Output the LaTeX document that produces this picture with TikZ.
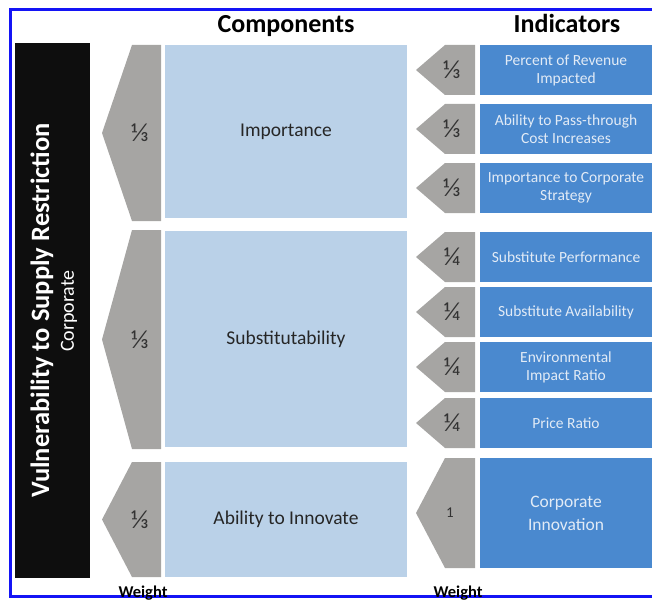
\documentclass[tikz,border=0pt]{standalone}
\usepackage{fontspec}
\setmainfont{Carlito}

\definecolor{rahmen}{RGB}{20,20,245}
\definecolor{balken}{RGB}{14,14,14}
\definecolor{gewicht}{RGB}{166,165,163}
\definecolor{hellblau}{RGB}{186,209,232}
\definecolor{dunkelblau}{RGB}{74,137,207}
\definecolor{hellschrift}{RGB}{226,235,246}

\tikzset{
  komp/.style={fill=hellblau, text=black!85, inner sep=0pt, minimum width=242,
    font=\fontsize{19.5}{23}\selectfont},
  ind/.style={fill=dunkelblau, text=hellschrift, inner sep=0pt, minimum width=172,
    align=center, font=\fontsize{15.5}{18}\selectfont},
  wzahl/.style={text=black!80, font=\fontsize{26}{28}\selectfont},
  titel/.style={font=\bfseries\fontsize{26}{30}\selectfont, anchor=base},
  wlabel/.style={font=\bfseries\fontsize{16.5}{20}\selectfont, anchor=base}
}

\begin{document}
\begin{tikzpicture}[x=1pt,y=-1pt]
  \useasboundingbox (0,0) rectangle (652,604);

  %Rahmen
  \draw[rahmen, line width=3] (10.5,9.5) rectangle (660,596);

  %Balken links
  \fill[balken] (15,43) rectangle (90,578);
  \node[rotate=90, text=white, font=\bfseries\fontsize{26.5}{30}\selectfont] (vuln) at (42,310.5)
    {Vulnerability to Supply Restriction};
  \node[rotate=90, text=white, font=\fontsize{20}{24}\selectfont] (corp) at (69,311) {Corporate};

  %Titel
  \node[titel] (komptitel) at (286,33) {Components};
  \node[titel] (indtitel) at (567,33) {Indicators};

  %Komponenten
  \fill[gewicht] (161,45) -- (132,45) -- (102,133) -- (132,221) -- (161,221) -- cycle;
  \node[wzahl] (w1) at (140,133) {⅓};
  \node[komp, minimum height=173] (imp) at (286,131.5) {Importance};

  \fill[gewicht] (161,230) -- (132,230) -- (102,339.5) -- (132,449) -- (161,449) -- cycle;
  \node[wzahl] (w2) at (140,339.5) {⅓};
  \node[komp, minimum height=216] (sub) at (286,339) {Substitutability};

  \fill[gewicht] (161,462) -- (132,462) -- (102,519.5) -- (132,577) -- (161,577) -- cycle;
  \node[wzahl] (w3) at (140,519.5) {⅓};
  \node[komp, minimum height=115] (abi) at (286,519.5) {Ability to Innovate};

  %Indikatoren
  \foreach \o/\u/\w/\n/\t in {
      45/95/⅓/i1/{Percent of Revenue\\Impacted},
      104/154/⅓/i2/{Ability to Pass-through\\Cost Increases},
      163/213/⅓/i3/{Importance to Corporate\\Strategy},
      232/282/¼/i4/{Substitute Performance},
      287/337/¼/i5/{Substitute Availability},
      342/392/¼/i6/{Environmental\\Impact Ratio},
      398/448/¼/i7/{Price Ratio}}{
    \fill[gewicht] (475,\o) -- (445,\o) -- (416,{(\o+\u)/2}) -- (445,\u) -- (475,\u) -- cycle;
    \node[wzahl] (w\n) at (452,{(\o+\u)/2}) {\w};
    \node[ind, minimum height=\u-\o] (\n) at (566,{(\o+\u)/2}) {\t};
  }

  \fill[gewicht] (475,458) -- (445,458) -- (416,513) -- (445,568) -- (475,568) -- cycle;
  \node[wzahl, font=\fontsize{15}{18}\selectfont] (wi8) at (450,513) {1};
  \node[ind, minimum height=110, font=\fontsize{17.5}{23}\selectfont] (i8) at (566,513)
    {Corporate\\Innovation};

  %Gewicht
  \node[wlabel] (wlinks) at (143,597) {Weight};
  \node[wlabel] (wrechts) at (458,597) {Weight};
\end{tikzpicture}
\end{document}
